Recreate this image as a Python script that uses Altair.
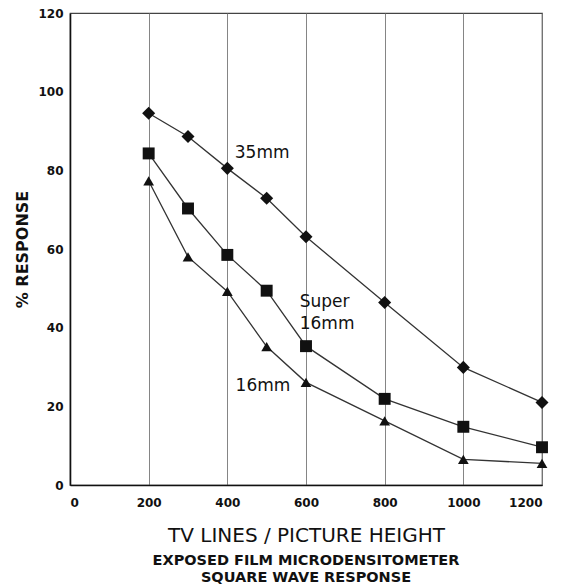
import altair as alt
import pandas as pd

lines_tv = [200, 300, 400, 500, 600, 800, 1000, 1200]
resp_35 = [94.5, 88.6, 80.5, 72.9, 63.1, 46.4, 29.9, 21.0]
resp_s16 = [84.3, 70.3, 58.5, 49.4, 35.3, 21.9, 14.8, 9.6]
resp_16 = [77.3, 58.0, 49.2, 35.2, 26.1, 16.3, 6.5, 5.5]

series_names = ["35mm", "Super 16mm", "16mm"]
series_shapes = ["diamond", "square", "triangle-up"]

label_text = ["35mm", "Super", "16mm", "16mm"]
label_x = [419, 584, 584, 421]
label_y = [84.3, 46.4, 41.0, 25.2]

rows = []
for name, vals in zip(series_names, [resp_35, resp_s16, resp_16]):
    for x, v in zip(lines_tv, vals):
        rows.append({"tv": x, "resp": v, "film": name})
df = pd.DataFrame(rows)
labels = pd.DataFrame({"t": label_text, "x": label_x, "y": label_y})

FONT = "DejaVu Sans"
xs = alt.Scale(domain=[0, 1200], nice=False)
ys = alt.Scale(domain=[0, 120], nice=False)

xaxis = alt.Axis(values=[0, 200, 400, 600, 800, 1000, 1200], format="d", grid=True, gridColor="#777",
                 gridWidth=0.9, ticks=False, domainColor="#111", domainWidth=1.6,
                 labelFont=FONT, labelFontSize=12, labelFontWeight="bold", labelColor="#111",
                 labelPadding=12, title="TV LINES / PICTURE HEIGHT", titleFont=FONT,
                 titleFontSize=20, titleFontWeight="normal", titleColor="#111", titlePadding=17)
yaxis = alt.Axis(values=[0, 20, 40, 60, 80, 100, 120], grid=False, ticks=False,
                 domainColor="#111", domainWidth=1.6, labelFont=FONT, labelFontSize=12,
                 labelFontWeight="bold", labelColor="#111", labelPadding=7,
                 title="% RESPONSE", titleFont=FONT, titleFontSize=16, titleFontWeight="bold",
                 titleColor="#111", titlePadding=7)

base = alt.Chart(df)
line = base.mark_line(color="#333", strokeWidth=1.3).encode(
    x=alt.X("tv:Q", scale=xs, axis=xaxis),
    y=alt.Y("resp:Q", scale=ys, axis=yaxis),
    detail="film:N",
)
pts = base.mark_point(filled=True, color="#111", opacity=1).encode(
    x=alt.X("tv:Q", scale=xs),
    y=alt.Y("resp:Q", scale=ys),
    shape=alt.Shape("film:N", scale=alt.Scale(domain=series_names, range=series_shapes), legend=None),
    size=alt.Size("film:N", scale=alt.Scale(domain=series_names, range=[170, 115, 75]), legend=None),
)
txt = alt.Chart(labels).mark_text(align="left", baseline="middle", font=FONT, fontSize=17,
                                  color="#111").encode(
    x=alt.X("x:Q", scale=xs), y=alt.Y("y:Q", scale=ys), text="t:N")

chart = alt.layer(line, pts, txt).properties(
    width=472, height=472,
    autosize="none",
    padding={"left": 70, "top": 13, "right": 20, "bottom": 100},
    title=alt.TitleParams(text=["EXPOSED FILM MICRODENSITOMETER", "SQUARE WAVE RESPONSE"],
                          orient="bottom", font=FONT, fontSize=14.5, fontWeight="bold",
                          color="#111", lineHeight=16.5, offset=9, anchor="middle"),
).configure_view(stroke="#444", strokeWidth=1.2)

chart.save("out.html", embed_options={"renderer": "svg", "actions": False})
